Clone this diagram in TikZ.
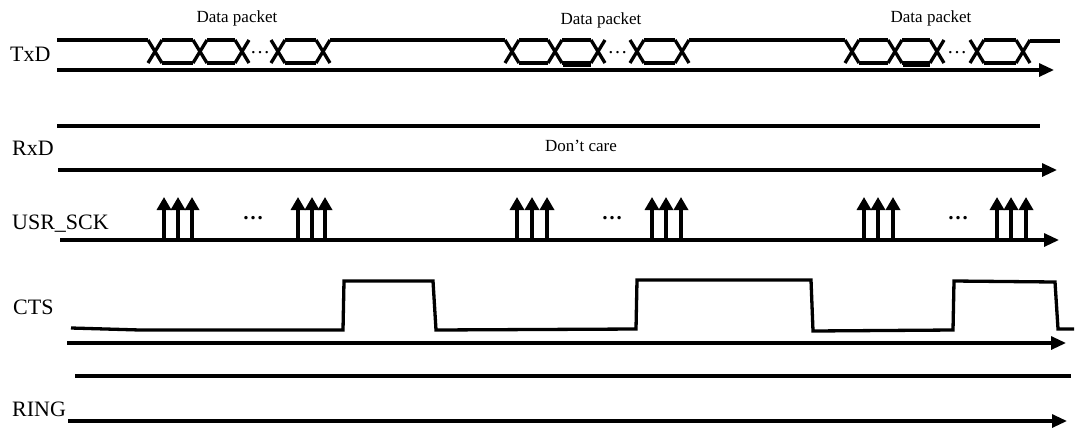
\documentclass[tikz,border=0pt]{standalone}
\usepackage{fontspec}
\setmainfont{Liberation Serif}
\usetikzlibrary{arrows.meta}
\tikzset{
  sig/.style={line width=3.3pt},
  axisline/.style={line width=3.1pt, -{Triangle[length=15pt,width=13pt]}},
  clk/.style={line width=4pt, -{Triangle[length=13pt,width=14pt]}},
  lbl/.style={font=\fontsize{22}{26}\selectfont, anchor=base west, inner sep=0pt},
  small/.style={font=\fontsize{17}{20}\selectfont, anchor=base, inner sep=0pt},
  dotsnode/.style={font=\fontsize{21}{22}\selectfont\bfseries, inner sep=0pt},
  txdots/.style={font=\fontsize{20}{22}\selectfont, inner sep=0pt},
}
\newcommand\txpacket[5]{%
  \foreach \c in {#1,#2,#3,#4,#5} {\draw[sig] ({\c-7},40) -- ({\c+7},63) ({\c-7},63) -- ({\c+7},40);}
  \foreach \p/\q in {#1/#2,#2/#3,#4/#5} {\draw[sig] ({\p+7},40) -- ({\q-7},40) ({\p+7},63) -- ({\q-7},63);}
  \node[txdots] at ({(#3+#4)/2},53) {…};
}
\newcommand\clkgroup[3]{%
  \foreach \c in {#1,#2,#3} {\draw[clk] (\c,240) -- (\c,197);}
}
\begin{document}
\begin{tikzpicture}[x=1pt,y=-1pt]
\useasboundingbox (0,0) rectangle (1075,429);
% ---------- TxD ----------
\node[lbl] (txd) at (10,61) {TxD};
\draw[sig] (57,40) -- (148,40);
\draw[sig] (330,40) -- (505,40);
\draw[sig] (689,40) -- (845,40);
\draw[sig] (1030,41) -- (1060,41);
\txpacket{155}{200}{242}{278}{323}
\txpacket{512}{555}{598}{637}{682}
\txpacket{852}{895}{937}{977}{1023}
\draw[line width=4pt] (563,64.5) -- (591,64.5);
\draw[line width=4pt] (903,64.5) -- (930,64.5);
\node[small] (dp1) at (237,22) {Data packet};
\node[small] (dp2) at (601,24) {Data packet};
\node[small] (dp3) at (931,22) {Data packet};
\coordinate (txa) at (57,70);
\coordinate (txb) at (1054,70);
\draw[axisline] (txa) -- (txb);
% ---------- RxD ----------
\node[lbl] (rxd) at (12,155) {RxD};
\draw[sig] (57,126) -- (1040,126);
\node[small] (dc) at (581,151) {Don’t care};
\coordinate (rxa) at (58,170);
\coordinate (rxb) at (1057,170);
\draw[axisline] (rxa) -- (rxb);
% ---------- USR_SCK ----------
\node[lbl] (sck) at (12,229) {USR\_SCK};
\coordinate (ska) at (60,240);
\coordinate (skb) at (1059,240);
\draw[axisline] (ska) -- (skb);
\clkgroup{164}{178}{192}
\clkgroup{298}{312}{325}
\clkgroup{517}{532}{547}
\clkgroup{652}{666}{681}
\clkgroup{864}{878}{893}
\clkgroup{997}{1011}{1026}
\node[dotsnode] at (253,218) {…};
\node[dotsnode] at (612,218) {…};
\node[dotsnode] at (958,218) {…};
% ---------- CTS ----------
\node[lbl] (cts) at (13,314) {CTS};
\draw[sig] (71,328) -- (140,330) -- (343,330) -- (344,281) -- (433,281) -- (436,330)
  -- (636,329) -- (637,280) -- (811,280) -- (813,331) -- (953,330) -- (954,281)
  -- (1055,282) -- (1058,329) -- (1074,329);
\coordinate (cta) at (67,343);
\coordinate (ctb) at (1066,343);
\draw[axisline] (cta) -- (ctb);
% ---------- RING ----------
\node[lbl] (ring) at (12,416) {RING};
\draw[sig] (75,376) -- (1071,376);
\coordinate (rga) at (68,421);
\coordinate (rgb) at (1067,421);
\draw[axisline] (rga) -- (rgb);
\end{tikzpicture}
\end{document}
